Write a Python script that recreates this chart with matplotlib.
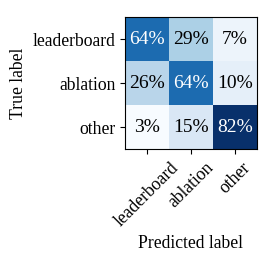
import matplotlib
matplotlib.use("Agg")
import matplotlib.pyplot as plt
import numpy as np

plt.rcParams['font.family'] = ['Liberation Serif', 'DejaVu Serif']

labels = ["leaderboard", "ablation", "other"]
cm = np.array([[0.64, 0.29, 0.07],
               [0.26, 0.64, 0.10],
               [0.03, 0.15, 0.82]])

fig = plt.figure(figsize=(2.7, 2.7), dpi=100)
ax = fig.add_axes([125/270, 1-149/270, 132/270, 132/270])
ax.imshow(cm, cmap="Blues", vmin=cm.min(), vmax=cm.max(), aspect="auto")
thresh = (cm.max() + cm.min()) / 2
for i in range(3):
    for j in range(3):
        ax.text(j, i, f"{cm[i, j]*100:.0f}%", ha="center", va="center",
                color="white" if cm[i, j] > thresh else "black", fontsize=14)
ax.set_xticks(range(3))
ax.set_yticks(range(3))
ax.set_xticklabels(labels, rotation=45, fontsize=12.7)
ax.set_yticklabels(labels, fontsize=12.7)
ax.set_xlabel("Predicted label", fontsize=12.7)
ax.set_ylabel("True label", fontsize=12.7)
fig.savefig("out.png", dpi=100)
